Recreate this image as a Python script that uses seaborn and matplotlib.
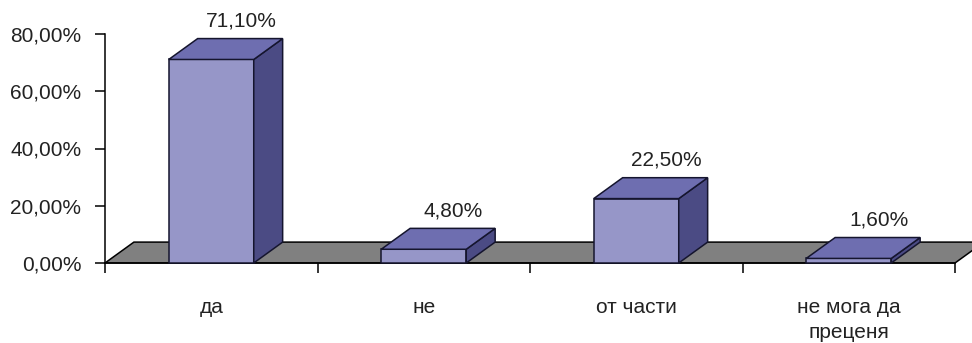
import matplotlib
matplotlib.use("Agg")
import numpy as np
import pandas as pd
import matplotlib.pyplot as plt
import seaborn as sns
from matplotlib.patches import Polygon
from matplotlib.ticker import FuncFormatter

# Survey answers and their shares (percent)
categories = ["да", "не", "от части", "не мога да\nпреценя"]
values = [71.1, 4.8, 22.5, 1.6]
value_labels = ["71,10%", "4,80%", "22,50%", "1,60%"]
y_ticks = [0, 20, 40, 60, 80]

# Colours of the pseudo-3D bars
FRONT = "#9696c8"
TOP = "#6e6eb0"
SIDE = "#4b4b84"
FLOOR = "#808080"
EDGE = "#15152e"
TEXT = "#222222"

# Depth of the 3D extrusion in data units (x: categories, y: percent)
DX = 0.136
DY = 7.3

FS = 15

sns.set_theme(style="white")
plt.rcParams["font.family"] = ["Liberation Sans", "DejaVu Sans"]

fig = plt.figure(figsize=(9.72, 3.43), dpi=100)
ax = fig.add_axes([105 / 972, 80 / 343, 850 / 972, 229 / 343])

df = pd.DataFrame({"category": categories, "value": values})
sns.barplot(data=df, x="category", y="value", ax=ax, width=0.4,
            color=FRONT, saturation=1, edgecolor=EDGE, linewidth=1.1,
            zorder=3)
bars = list(ax.patches)

ax.set_xlim(-0.5, 3.5)
ax.set_ylim(0, 80)

# Grey floor under the bars
floor = Polygon([(-0.5, 0), (3.5, 0), (3.5 + DX, DY), (-0.5 + DX, DY)],
                closed=True, facecolor=FLOOR, edgecolor="black",
                linewidth=1.1, zorder=1, clip_on=False)
ax.add_patch(floor)

# Top and side faces for each bar
for p in bars:
    p.set_clip_on(False)
    x0, w, h = p.get_x(), p.get_width(), p.get_height()
    top = Polygon([(x0, h), (x0 + w, h), (x0 + w + DX, h + DY), (x0 + DX, h + DY)],
                  closed=True, facecolor=TOP, edgecolor=EDGE, linewidth=1.1,
                  zorder=4, clip_on=False)
    side = Polygon([(x0 + w, 0), (x0 + w + DX, DY), (x0 + w + DX, h + DY), (x0 + w, h)],
                   closed=True, facecolor=SIDE, edgecolor=EDGE, linewidth=1.1,
                   zorder=4, clip_on=False)
    ax.add_patch(side)
    ax.add_patch(top)

# Value labels above each bar
for i, (v, lab) in enumerate(zip(values, value_labels)):
    ax.text(i + 0.14, v + DY + 4.2, lab, ha="center", va="baseline",
            fontsize=FS, color=TEXT, clip_on=False)

# Axes styling
for s in ["top", "right"]:
    ax.spines[s].set_visible(False)
for s in ["left", "bottom"]:
    ax.spines[s].set_color("black")
    ax.spines[s].set_linewidth(1.1)

ax.set_yticks(y_ticks)
ax.yaxis.set_major_formatter(FuncFormatter(lambda y, _: f"{y:.2f}%".replace(".", ",")))
ax.tick_params(axis="y", left=True, direction="out", length=7, width=1.1,
               color="black", pad=10, labelsize=FS, labelcolor=TEXT)

ax.set_xticks(np.arange(-0.5, 4, 1), minor=True)
ax.tick_params(axis="x", which="major", bottom=False, length=0, pad=25,
               labelsize=FS, labelcolor=TEXT)
ax.tick_params(axis="x", which="minor", bottom=True, direction="out",
               length=7, width=1.1, color="black")
for t in ax.get_xticklabels():
    t.set_linespacing(1.45)

ax.set_xlabel("")
ax.set_ylabel("")
ax.grid(False)

fig.savefig("out.png", dpi=100)
